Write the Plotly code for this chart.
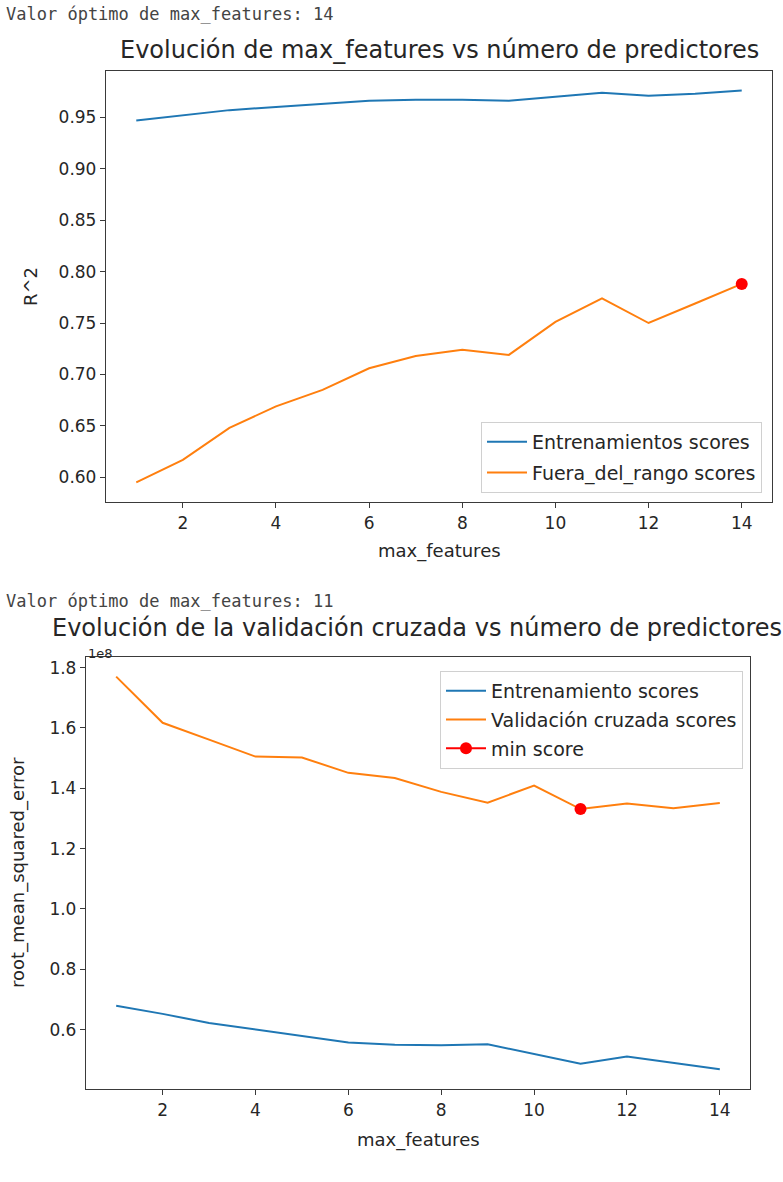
import plotly.graph_objects as go

# ---- data -------------------------------------------------------------
max_features = [1, 2, 3, 4, 5, 6, 7, 8, 9, 10, 11, 12, 13, 14]

# R^2 per value of max_features
r2_train = [0.947, 0.952, 0.957, 0.960, 0.963, 0.966, 0.967, 0.967,
            0.966, 0.970, 0.974, 0.971, 0.973, 0.976]
r2_out_of_range = [0.595, 0.617, 0.648, 0.669, 0.685, 0.706, 0.718, 0.724,
                   0.719, 0.751, 0.774, 0.750, 0.769, 0.788]

# cross-validated root mean squared error per value of max_features
rmse_train = [0.679e8, 0.652e8, 0.622e8, 0.600e8, 0.580e8, 0.557e8, 0.550e8,
              0.548e8, 0.551e8, 0.519e8, 0.487e8, 0.511e8, 0.489e8, 0.468e8]
rmse_cv = [1.770e8, 1.617e8, 1.561e8, 1.505e8, 1.502e8, 1.451e8, 1.434e8,
           1.388e8, 1.352e8, 1.409e8, 1.331e8, 1.349e8, 1.334e8, 1.351e8]

r2_ticks = [0.60, 0.65, 0.70, 0.75, 0.80, 0.85, 0.90, 0.95]
rmse_ticks = [0.4e8, 0.6e8, 0.8e8, 1.0e8, 1.2e8, 1.4e8, 1.6e8, 1.8e8]
x_ticks = [2, 4, 6, 8, 10, 12, 14]

# ---- helpers ----------------------------------------------------------
W, H = 783, 1182
BLUE, ORANGE, RED = "#1f77b4", "#ff7f0e", "red"
FONT = "DejaVu Sans"
TXT = "#262626"


def auto_range(values, pad=0.05):
    lo, hi = min(values), max(values)
    span = hi - lo
    return [lo - pad * span, hi + pad * span]


def px_x(p):
    return p / W


def px_y(p):
    return 1 - p / H


best_r2_idx = r2_out_of_range.index(max(r2_out_of_range))
best_rmse_idx = rmse_cv.index(min(rmse_cv))

fig = go.Figure()

# top panel
fig.add_trace(go.Scatter(x=max_features, y=r2_train, mode="lines",
                         line=dict(color=BLUE, width=2),
                         name="Entrenamientos scores", legendgroup="a",
                         xaxis="x", yaxis="y", legend="legend"))
fig.add_trace(go.Scatter(x=max_features, y=r2_out_of_range, mode="lines",
                         line=dict(color=ORANGE, width=2),
                         name="Fuera_del_rango scores", legendgroup="b",
                         xaxis="x", yaxis="y", legend="legend"))
fig.add_trace(go.Scatter(x=[max_features[best_r2_idx]],
                         y=[r2_out_of_range[best_r2_idx]], mode="markers",
                         marker=dict(color=RED, size=12), showlegend=False,
                         xaxis="x", yaxis="y"))

# bottom panel
fig.add_trace(go.Scatter(x=max_features, y=rmse_train, mode="lines",
                         line=dict(color=BLUE, width=2),
                         name="Entrenamiento scores", legendgroup="c",
                         xaxis="x2", yaxis="y2", legend="legend2"))
fig.add_trace(go.Scatter(x=max_features, y=rmse_cv, mode="lines",
                         line=dict(color=ORANGE, width=2),
                         name="Validación cruzada scores", legendgroup="d",
                         xaxis="x2", yaxis="y2", legend="legend2"))
fig.add_trace(go.Scatter(x=[max_features[best_rmse_idx]],
                         y=[rmse_cv[best_rmse_idx]], mode="lines+markers",
                         line=dict(color=RED, width=2),
                         marker=dict(color=RED, size=12),
                         name="min score", legendgroup="e",
                         xaxis="x2", yaxis="y2", legend="legend2"))

axis_common = dict(showline=True, mirror=True, linecolor="#3a3a3a",
                   linewidth=1.3, ticks="outside", ticklen=5, tickwidth=1.2,
                   tickcolor="#3a3a3a", showgrid=False, zeroline=False,
                   tickfont=dict(family=FONT, size=17, color=TXT))

x_range = [min(max_features) - 0.05 * (max(max_features) - min(max_features)),
           max(max_features) + 0.05 * (max(max_features) - min(max_features))]

legend_font = dict(family=FONT, size=19, color=TXT)

fig.update_layout(
    width=W, height=H,
    margin=dict(l=0, r=0, t=0, b=0),
    paper_bgcolor="white", plot_bgcolor="white",
    xaxis=dict(domain=[px_x(106), px_x(772)], anchor="y", range=x_range,
               tickvals=x_ticks, **axis_common),
    yaxis=dict(domain=[px_y(502), px_y(71)], anchor="x",
               range=auto_range(r2_train + r2_out_of_range),
               tickvals=r2_ticks, ticktext=[f"{v:.2f}" for v in r2_ticks],
               **axis_common),
    xaxis2=dict(domain=[px_x(86), px_x(750)], anchor="y2", range=x_range,
                tickvals=x_ticks, **axis_common),
    yaxis2=dict(domain=[px_y(1089), px_y(657)], anchor="x2",
                range=auto_range(rmse_train + rmse_cv),
                tickvals=rmse_ticks,
                ticktext=[f"{v / 1e8:.1f}" for v in rmse_ticks],
                **axis_common),
    legend=dict(x=px_x(762), y=px_y(493), xanchor="right", yanchor="bottom",
                bgcolor="rgba(255,255,255,0.85)", bordercolor="#d0d0d0",
                borderwidth=1, tracegroupgap=3, itemwidth=40,
                font=legend_font),
    legend2=dict(x=px_x(743), y=px_y(671), xanchor="right", yanchor="top",
                 bgcolor="rgba(255,255,255,0.85)", bordercolor="#d0d0d0",
                 borderwidth=1, tracegroupgap=1, itemwidth=40,
                 font=legend_font),
)

mono = dict(family="DejaVu Sans Mono", size=17, color="#444444")
title_font = dict(family=FONT, size=24, color=TXT)
label_font = dict(family=FONT, size=18, color=TXT)

annotations = [
    dict(text="Valor óptimo de max_features: 14", x=px_x(4), y=px_y(14),
         xanchor="left", yanchor="middle", font=mono, showarrow=False),
    dict(text="Valor óptimo de max_features: 11", x=px_x(4), y=px_y(601),
         xanchor="left", yanchor="middle", font=mono, showarrow=False),
    dict(text="Evolución de max_features vs número de predictores",
         x=px_x(439), y=px_y(50), xanchor="center", yanchor="middle",
         font=title_font, showarrow=False),
    dict(text="Evolución de la validación cruzada vs número de predictores",
         x=px_x(417), y=px_y(628), xanchor="center", yanchor="middle",
         font=title_font, showarrow=False),
    dict(text="R^2", x=px_x(30), y=px_y(286), xanchor="center",
         yanchor="middle", textangle=-90, font=label_font, showarrow=False),
    dict(text="max_features", x=px_x(439), y=px_y(551), xanchor="center",
         yanchor="middle", font=label_font, showarrow=False),
    dict(text="root_mean_squared_error", x=px_x(18), y=px_y(873),
         xanchor="center", yanchor="middle", textangle=-90, font=label_font,
         showarrow=False),
    dict(text="max_features", x=px_x(418), y=px_y(1140), xanchor="center",
         yanchor="middle", font=label_font, showarrow=False),
    dict(text="1e8", x=px_x(86), y=px_y(653), xanchor="left",
         yanchor="middle", font=dict(family=FONT, size=13, color=TXT),
         showarrow=False),
]
for a in annotations:
    a.update(xref="paper", yref="paper")
fig.update_layout(annotations=annotations)

fig.write_html("out.html")
